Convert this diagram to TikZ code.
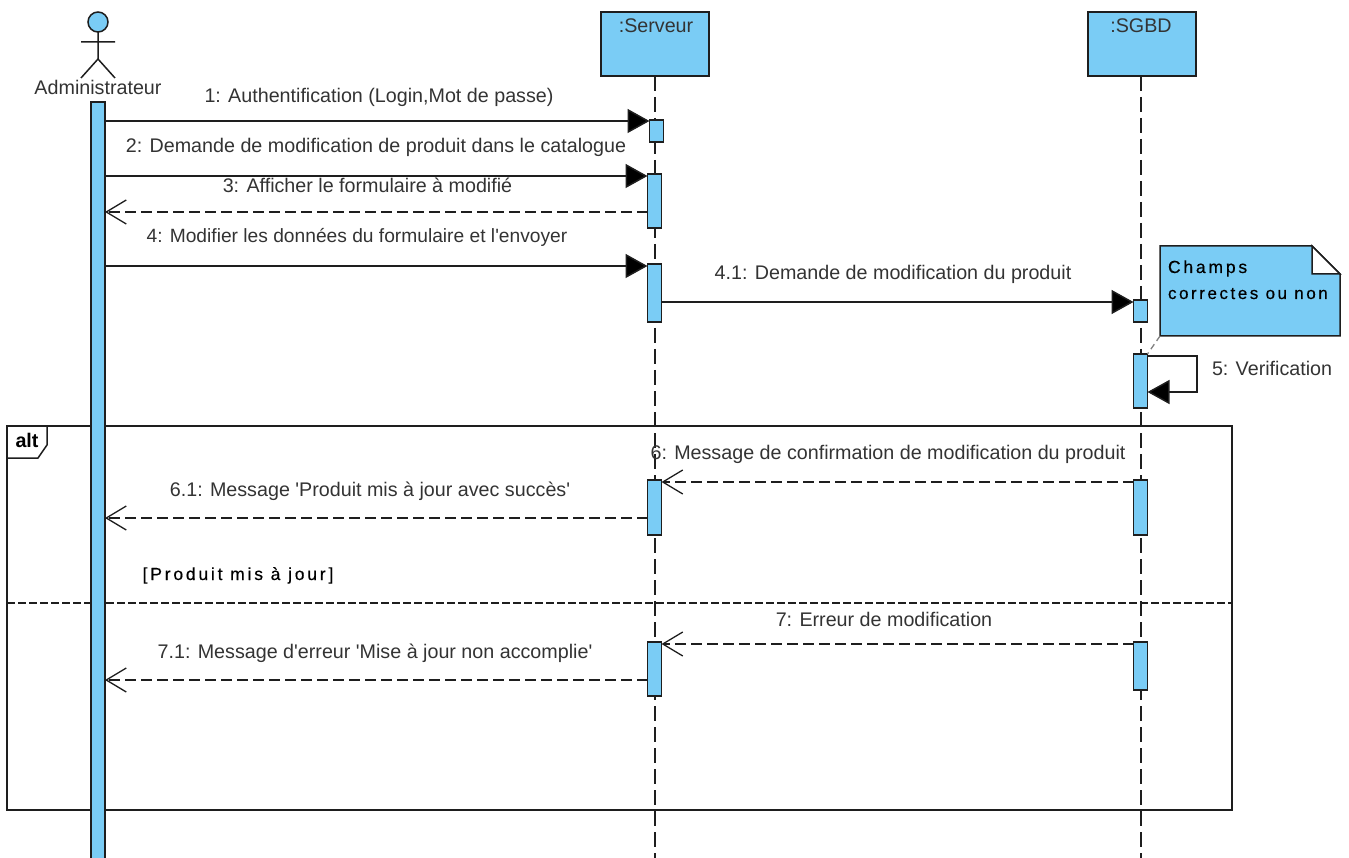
\documentclass[tikz,border=0pt]{standalone}
\usepackage{fontspec}
\setmainfont{Liberation Sans}[Ligatures=TeXOff]
\usetikzlibrary{arrows.meta}
\definecolor{umlblue}{HTML}{7ACCF5}
\definecolor{umlink}{HTML}{1E1E1E}
\definecolor{umltext}{HTML}{333333}
\tikzset{
  x=1pt,y=-1pt,
  every node/.style={font=\fontsize{19.7}{22}\selectfont,text=umltext,inner sep=0pt,outer sep=0pt},
  msglabel/.style={anchor=base},
  umlline/.style={draw=umlink,line width=1.5pt},
  headbox/.style={umlline,fill=umlblue,minimum width=108pt,minimum height=64pt},
  activation/.style={umlline,fill=umlblue,minimum width=14pt},
  lifeline/.style={draw=umlink,line width=1.5pt,dash pattern=on 15pt off 6pt},
  callmsg/.style={draw=umlink,line width=1.5pt,-{Triangle[length=22pt,width=24pt,fill=black]}},
  replymsg/.style={draw=umlink,line width=1.5pt,dash pattern=on 11pt off 5pt,-{Straight Barb[length=20pt,width=24pt,line width=1.3pt,sep=0pt]}},
  spacedbold/.style={font=\fontsize{17.5}{22}\selectfont\addfontfeature{LetterSpace=16,FakeBold=0.4},text=black,anchor=base},
}
\begin{document}
\begin{tikzpicture}
\useasboundingbox (0,0) rectangle (1349,858);
\clip (0,0) rectangle (1349,858);
% frame
\node[draw=umlink,line width=1.5pt,minimum width=1225pt,minimum height=384pt,anchor=north west] (frame) at (7,426) {};
\draw[umlline] (7,458) -- (38,458) -- (47,445) -- (47,426);
\node[font=\fontsize{19.7}{22}\selectfont\bfseries,text=black,anchor=base] (alttag) at (27,447) {alt};
\coordinate (sepL) at (7,603);
\coordinate (sepR) at (1232,603);
\draw[draw=umlink,line width=1.5pt,dash pattern=on 8pt off 3pt] (sepL) -- (sepR);
% lifeline heads
\node[headbox] (srv) at (655,44) {};
\node[headbox] (db) at (1142,44) {};
\node[msglabel] (srvlabel) at (656,33) {:Serveur};
\node[msglabel] (dblabel) at (1141,33) {:SGBD};
\coordinate (srvend) at (655,858);
\coordinate (dbend) at (1141,858);
\draw[lifeline] (srv.south) -- (srvend);
\draw[lifeline] (dbend |- db.south) -- (dbend);
% actor
\node[umlline,fill=umlblue,circle,minimum size=20pt] (actorhead) at (98,22) {};
\coordinate (hip) at (98,59);
\coordinate (armL) at (81,42);
\coordinate (armR) at (115,42);
\coordinate (legL) at (81,78);
\coordinate (legR) at (115,78);
\draw[umlline] (actorhead.south) -- (hip) (armL) -- (armR) (legL) -- (hip) -- (legR);
\node[msglabel] (actorlabel) at (98,95) {Administrateur};
% activations
\node[activation,minimum height=780pt,anchor=north] (admin) at (98,102) {};
\node[activation,minimum height=22pt] (a1) at (656.5,131) {};
\node[activation,minimum height=54pt] (a2) at (654.5,201) {};
\node[activation,minimum height=58pt] (a3) at (654.5,293) {};
\node[activation,minimum height=55pt] (a4) at (654.5,507.5) {};
\node[activation,minimum height=54pt] (a5) at (654.5,669) {};
\node[activation,minimum height=22pt] (b1) at (1140.5,311) {};
\node[activation,minimum height=54pt] (b2) at (1140.5,381) {};
\node[activation,minimum height=55pt] (b3) at (1140.5,507.5) {};
\node[activation,minimum height=48pt] (b4) at (1140.5,666) {};
% messages
\draw[callmsg] (admin.east |- 0,121) -- (a1.west |- 0,121);
\draw[callmsg] (admin.east |- 0,176) -- (a2.west |- 0,176);
\draw[replymsg] (a2.west |- 0,212) -- (admin.east |- 0,212);
\draw[callmsg] (admin.east |- 0,266) -- (a3.west |- 0,266);
\draw[callmsg] (a3.east |- 0,302) -- (b1.west |- 0,302);
\coordinate (loopA) at (1197,356);
\coordinate (loopB) at (1197,392);
\draw[callmsg] (b2.east |- 0,356) -- (loopA) -- (loopB) -- (b2.east |- 0,392);
\draw[replymsg] (b3.west |- 0,482) -- (a4.east |- 0,482);
\draw[replymsg] (a4.west |- 0,518) -- (admin.east |- 0,518);
\draw[replymsg] (b4.west |- 0,644) -- (a5.east |- 0,644);
\draw[replymsg] (a5.west |- 0,680) -- (admin.east |- 0,680);
% labels
\node[msglabel] (l1) at (379,103) {1: Authentification (Login,Mot de passe)};
\node[msglabel] (l2) at (376,153) {2: Demande de modification de produit dans le catalogue};
\node[msglabel] (l3) at (367.5,193) {3: Afficher le formulaire à modifié};
\node[msglabel,font=\fontsize{19.2}{22}\selectfont] (l4) at (357,243) {4: Modifier les données du formulaire et l'envoyer};
\node[msglabel] (l41) at (893,280) {4.1: Demande de modification du produit};
\node[anchor=base west] (l5) at (1212,375) {5: Verification};
\node[msglabel] (l6) at (888,459) {6: Message de confirmation de modification du produit};
\node[msglabel] (l61) at (370,496) {6.1: Message 'Produit mis à jour avec succès'};
\node[msglabel] (l7) at (884,626) {7: Erreur de modification};
\node[msglabel] (l71) at (375,658) {7.1: Message d'erreur 'Mise à jour non accomplie'};
\node[spacedbold] (guard) at (238,580) {[Produit mis à jour]};
% note
\coordinate (nNW) at (1160,246);
\coordinate (nF1) at (1312,246);
\coordinate (nF2) at (1340,274);
\coordinate (nSE) at (1340,336);
\coordinate (nSW) at (1160,336);
\coordinate (nFC) at (1312,274);
\draw[umlline,fill=umlblue] (nNW) -- (nF1) -- (nF2) -- (nSE) -- (nSW) -- cycle;
\draw[umlline,fill=white] (nF1) -- (nFC) -- (nF2) -- cycle;
\node[spacedbold,anchor=base west] (n1) at (1168,273) {Champs};
\node[spacedbold,anchor=base west,font=\fontsize{17}{22}\selectfont\addfontfeature{LetterSpace=15,FakeBold=0.4}] (n2) at (1168,299) {correctes ou non};
\draw[draw=gray,line width=1.3pt,dash pattern=on 6pt off 4pt] (nSW) -- (b2.north east);
\end{tikzpicture}
\end{document}
